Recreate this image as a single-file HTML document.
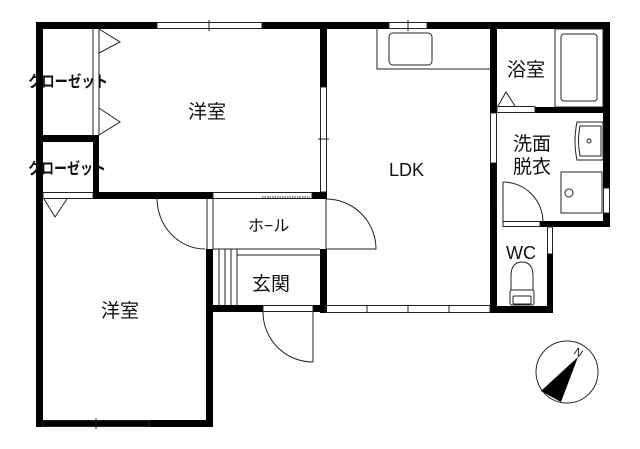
<!DOCTYPE html>
<html><head><meta charset="utf-8"><style>
html,body{margin:0;padding:0;background:#fff;width:640px;height:449px;overflow:hidden}
text{font-family:"Liberation Sans","Noto Sans CJK JP",sans-serif;fill:#111}
</style></head><body>
<svg width="640" height="449" viewBox="0 0 640 449" xmlns="http://www.w3.org/2000/svg">
<g fill="#000">
<rect x="36" y="22" width="121" height="7"/>
<rect x="262" y="22" width="127" height="7"/>
<rect x="427" y="22" width="183" height="7"/>
<rect x="36" y="22" width="7" height="405"/>
<rect x="603" y="22" width="7" height="166"/>
<rect x="603" y="213" width="7" height="14"/>
<rect x="36" y="135" width="63" height="7"/>
<rect x="93" y="135" width="6" height="63"/>
<rect x="93" y="192" width="120" height="7"/>
<rect x="312" y="192" width="15" height="7"/>
<rect x="320" y="22" width="7" height="65"/>
<rect x="320" y="249" width="7" height="64"/>
<rect x="490" y="22" width="7" height="91"/>
<rect x="490" y="163" width="7" height="150"/>
<rect x="535" y="107" width="75" height="6"/>
<rect x="540" y="221" width="70" height="6"/>
<rect x="547" y="254" width="6" height="59"/>
<rect x="490" y="306" width="63" height="7"/>
<rect x="206" y="249" width="7" height="178"/>
<rect x="206" y="305" width="57" height="7"/>
<rect x="313" y="305" width="14" height="7"/>
<rect x="36" y="420" width="177" height="7"/>
</g>
<g fill="none" stroke="#222" stroke-width="1">
<rect x="157" y="22.5" width="105" height="6"/><line x1="209" y1="20" x2="209" y2="31"/>
<rect x="389" y="22.5" width="38" height="6"/><line x1="408" y1="20" x2="408" y2="31"/>
<rect x="320.5" y="87" width="6" height="105"/><line x1="318" y1="139" x2="329" y2="139"/>
<rect x="43" y="420.5" width="106" height="6"/><line x1="96" y1="418" x2="96" y2="429"/>
<rect x="326" y="305.5" width="164" height="7"/>
<line x1="367" y1="305" x2="367" y2="313"/><line x1="408" y1="305" x2="408" y2="313"/><line x1="449" y1="305" x2="449" y2="313"/>
<rect x="603.5" y="188" width="6" height="25"/>
<rect x="547.5" y="227" width="5" height="27"/>
<line x1="93" y1="29" x2="93" y2="135"/><line x1="99" y1="29" x2="99" y2="135"/>
<polyline points="99,29 120,42 99,53"/>
<polyline points="99,108 120,122 99,135"/>
<rect x="43" y="192.5" width="50" height="6"/>
<polyline points="44,199 55,217 67,199"/>
<rect x="213" y="192.5" width="99" height="6"/>
<line x1="262" y1="197" x2="310" y2="197" stroke-dasharray="1.5,1"/>
<rect x="555" y="29" width="48" height="78"/>
<rect x="561" y="34" width="36" height="67" rx="3"/>
<rect x="497" y="106.5" width="38" height="6"/>
<polyline points="498,106 506,92 515,106"/>
<rect x="490.5" y="113" width="6" height="50"/>
<line x1="496" y1="165" x2="496" y2="210" stroke-dasharray="1.5,1"/>
<path d="M577 122 h26 v38 h-26 q-4 -19 0 -38z"/>
<path d="M580 126 h21 v30 h-21 q-3 -15 0 -30z"/>
<circle cx="589" cy="141" r="2"/>
<rect x="561" y="172" width="41" height="41"/>
<circle cx="569" cy="193" r="4"/>
<line x1="503" y1="182" x2="503" y2="222"/>
<path d="M503 182 A40 40 0 0 1 543 222"/>
<rect x="503" y="221.5" width="37" height="5"/>
<polyline points="377,29 377,69 490,69"/>
<rect x="389" y="33" width="43" height="32" rx="4"/>
<path d="M511 290 v-14 q0 -14 11 -14 q11 0 11 14 v14"/>
<rect x="510" y="290" width="24" height="15" rx="2"/>
<rect x="513" y="296" width="18" height="8" rx="1"/>
<line x1="326" y1="199" x2="326" y2="249"/>
<path d="M326 199 A50 50 0 0 1 376 249 H326"/>
<line x1="313" y1="249" x2="320" y2="249"/><line x1="313" y1="255" x2="320" y2="255"/>
<line x1="213" y1="198" x2="213" y2="249"/><line x1="207" y1="198" x2="207" y2="249"/>
<path d="M157 198 A48 51 0 0 0 205 249"/>
<line x1="213" y1="249" x2="320" y2="249"/>
<line x1="237" y1="255" x2="320" y2="255"/>
<line x1="237" y1="249" x2="237" y2="305"/>
<line x1="219" y1="249" x2="219" y2="305"/><line x1="225" y1="249" x2="225" y2="305"/><line x1="231" y1="249" x2="231" y2="305"/>
<rect x="263" y="305.5" width="50" height="6"/>
<line x1="313" y1="312" x2="313" y2="362"/>
<path d="M263 312 A50 50 0 0 0 313 362"/>
<circle cx="567" cy="372" r="31"/>
</g>
<polygon points="578,357 541,391 561,402" fill="#000"/>
<text x="575" y="357" font-size="11" transform="rotate(35 580 352)">N</text>
<g font-size="19">
<text x="188" y="118">洋室</text>
<text x="101" y="317">洋室</text>
<text x="389" y="176" font-size="18">LDK</text>
<text x="507" y="76">浴室</text>
<text x="513" y="150">洗面</text>
<text x="513" y="173">脱衣</text>
<text x="506" y="259" font-size="18">WC</text>
<text x="248" y="231" font-size="16">ホ−ル</text>
<text x="252" y="290">玄関</text>
</g>
<text x="28" y="87" font-size="16" font-weight="bold" textLength="80" lengthAdjust="spacingAndGlyphs">クローゼット</text>
<text x="28" y="174" font-size="16" font-weight="bold" textLength="78" lengthAdjust="spacingAndGlyphs">クローゼット</text>
</svg>
</body></html>
